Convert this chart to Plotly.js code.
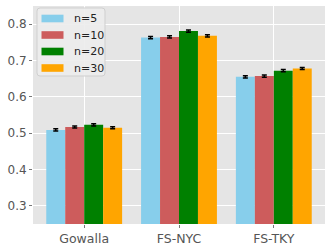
<!DOCTYPE html>
<html><head><meta charset="utf-8">
<script src="https://cdn.plot.ly/plotly-3.0.1.min.js"></script>
<style>html,body{margin:0;padding:0;background:#fff}#c{width:332px;height:249px}</style>
</head><body><div id="c"></div>
<script>
const categories = ["Gowalla", "FS-NYC", "FS-TKY"];
const seriesNames = ["n=5", "n=10", "n=20", "n=30"];
const n5  = [0.509, 0.763, 0.655];
const n10 = [0.517, 0.765, 0.657];
const n20 = [0.523, 0.781, 0.672];
const n30 = [0.515, 0.768, 0.678];
const err5  = [0.003, 0.003, 0.003];
const err10 = [0.003, 0.003, 0.003];
const err20 = [0.003, 0.003, 0.003];
const err30 = [0.003, 0.003, 0.003];
const colors = ["#87CEEB", "#CD5C5C", "#008000", "#FFA500"];
const yTicks = [0.3, 0.4, 0.5, 0.6, 0.7, 0.8];

const W = 332, H = 249;
const M = {l: 33, r: 7, t: 6, b: 25};
const PW = W - M.l - M.r, PH = H - M.t - M.b;
const px = x => (x - M.l) / PW;
const py = y => (H - M.b - y) / PH;

const vals = [n5, n10, n20, n30];
const errs = [err5, err10, err20, err30];
const traces = vals.map((v, i) => ({
  type: "bar", name: seriesNames[i], x: categories, y: v,
  marker: {color: colors[i], line: {width: 0}},
  error_y: {type: "data", array: errs[i], visible: true, color: "#000", thickness: 1.5, width: 2.5},
  showlegend: false
}));

// custom legend (matplotlib-style wide swatches)
const shapes = [];
const annotations = [];
const bx0 = 37, bx1 = 105, by0 = 8, by1 = 76, r = 3;
const rx = r / PW, ry = r / PH;
const X0 = px(bx0), X1 = px(bx1), Y0 = py(by1), Y1 = py(by0);
shapes.push({type: "path", xref: "paper", yref: "paper", layer: "above",
  path: `M${X0+rx},${Y0} L${X1-rx},${Y0} Q${X1},${Y0} ${X1},${Y0+ry} L${X1},${Y1-ry} Q${X1},${Y1} ${X1-rx},${Y1} L${X0+rx},${Y1} Q${X0},${Y1} ${X0},${Y1-ry} L${X0},${Y0+ry} Q${X0},${Y0} ${X0+rx},${Y0} Z`,
  fillcolor: "rgba(236,236,236,0.9)", line: {color: "#cfcfcf", width: 1}});
seriesNames.forEach((nm, i) => {
  const cy = 18.5 + i * 16.5;
  shapes.push({type: "rect", xref: "paper", yref: "paper", layer: "above",
    x0: px(41.5), x1: px(63.5), y0: py(cy + 3.8), y1: py(cy - 3.8),
    fillcolor: colors[i], line: {width: 0}});
  annotations.push({xref: "paper", yref: "paper", x: px(72), y: py(cy),
    xanchor: "left", yanchor: "middle", showarrow: false, text: nm,
    font: {family: "DejaVu Sans", size: 11, color: "#222"}});
});

const layout = {
  width: W, height: H,
  margin: M,
  paper_bgcolor: "#fff", plot_bgcolor: "#E5E5E5",
  barmode: "group", bargap: 0.2, bargroupgap: 0,
  font: {family: "DejaVu Sans", size: 12, color: "#555"},
  xaxis: {range: [-0.54, 2.54], showgrid: true, gridcolor: "#fff", gridwidth: 1,
          ticks: "outside", ticklen: 3, tickcolor: "#555", tickwidth: 0.8,
          tickfont: {size: 12.5, color: "#555"}, zeroline: false},
  yaxis: {range: [0.25, 0.85], tickvals: yTicks, ticktext: yTicks.map(t => t.toFixed(1)),
          showgrid: true, gridcolor: "#fff", gridwidth: 1,
          ticks: "outside", ticklen: 3, tickcolor: "#555", tickwidth: 0.8,
          tickfont: {size: 12, color: "#555"}, zeroline: false},
  showlegend: false,
  shapes: shapes,
  annotations: annotations
};
Plotly.newPlot("c", traces, layout, {displayModeBar: false, staticPlot: true});
</script></body></html>
